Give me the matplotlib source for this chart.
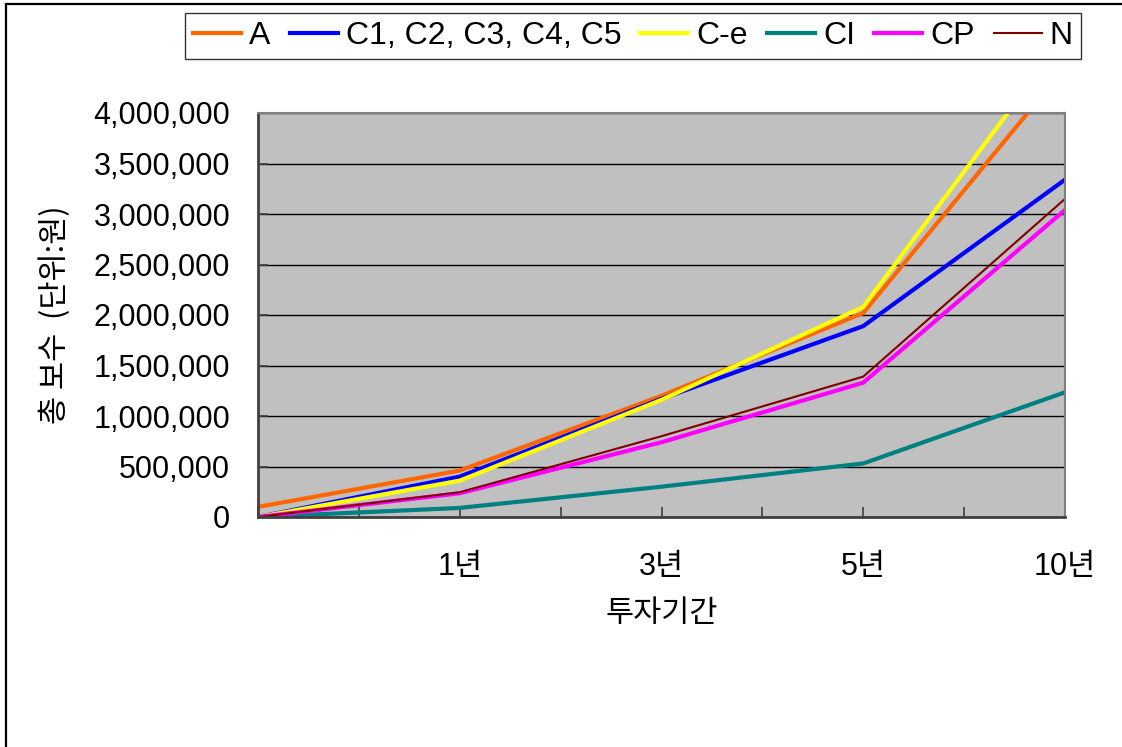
import matplotlib
matplotlib.use("Agg")
import matplotlib.pyplot as plt
from matplotlib.lines import Line2D

plt.rcParams['font.family'] = ['Liberation Sans', 'Noto Sans CJK KR', 'DejaVu Sans']

# Data
periods = ["", "1년", "3년", "5년", "10년"]
series_names = ["A", "C1, C2, C3, C4, C5", "C-e", "CI", "CP", "N"]
val_A = [100000, 460000, 1200000, 2020000, 4450000]
val_C = [0, 400000, 1170000, 1890000, 3340000]
val_Ce = [0, 360000, 1160000, 2080000, 4760000]
val_CI = [0, 90000, 300000, 530000, 1235000]
val_CP = [0, 235000, 740000, 1330000, 3040000]
val_N = [0, 245000, 800000, 1390000, 3150000]
series_values = [val_A, val_C, val_Ce, val_CI, val_CP, val_N]
colors = ["#FF6600", "#0000FF", "#FFFF00", "#008080", "#FF00FF", "#800000"]
widths = [3.0, 3.0, 3.0, 3.0, 3.0, 1.5]

W, H = 1122, 747
fig = plt.figure(figsize=(W / 100, H / 100), dpi=100)
fig.patch.set_facecolor("white")

# outer chart-area border (left and top visible)
fig.add_artist(Line2D([6 / W, 6 / W], [0, 1 - 4 / H], transform=fig.transFigure,
                      color="black", lw=1.6))
fig.add_artist(Line2D([6 / W, 1.01], [1 - 4 / H, 1 - 4 / H], transform=fig.transFigure,
                      color="black", lw=1.6))

ax = fig.add_axes([258 / W, 1 - 517 / H, (1065 - 258) / W, (517 - 113) / H])
ax.set_facecolor("#C0C0C0")

xpos = [0, 2, 4, 6, 8]
for name, vals, c, lw in zip(series_names, series_values, colors, widths):
    ax.plot(xpos, vals, color=c, lw=lw, label=name, solid_joinstyle="miter")

ax.set_xlim(0, 8)
ax.set_ylim(0, 4000000)
ax.set_yticks(range(0, 4000001, 500000))
ax.set_yticklabels([f"{v:,}" for v in range(0, 4000001, 500000)], fontsize=22)
ax.set_xticks(range(0, 9))
ax.set_xticklabels(["", "", "1년", "", "3년", "", "5년", "", "10년"], fontsize=22)
ax.tick_params(axis="x", direction="in", length=7, width=1.2, color="#404040", pad=25)
ax.tick_params(axis="y", direction="in", length=7, width=1.2, color="#404040", pad=20)
ax.grid(axis="y", color="black", lw=1.0)
ax.set_axisbelow(True)
for s in ["top", "right"]:
    ax.spines[s].set_color("#808080")
    ax.spines[s].set_linewidth(1.5)
for s in ["left", "bottom"]:
    ax.spines[s].set_color("#404040")
    ax.spines[s].set_linewidth(2.0)

ax.set_ylabel("총 보수  (단위:원)", fontsize=22, family=['Noto Sans CJK KR', 'DejaVu Sans'],
              labelpad=16)
ax.set_xlabel("투자기간", fontsize=22, family=['Noto Sans CJK KR', 'DejaVu Sans'],
              labelpad=12)

leg = fig.legend(loc="center", bbox_to_anchor=((184 + 1082) / 2 / W, 1 - 36 / H),
                 ncol=6, fontsize=23, frameon=True, fancybox=False,
                 handlelength=1.5, handletextpad=0.25, columnspacing=0.6,
                 borderpad=0.25, borderaxespad=0)
leg.get_frame().set_edgecolor("black")
leg.get_frame().set_linewidth(1.0)
for h, lw in zip(leg.get_lines(), widths):
    h.set_linewidth(lw)

fig.savefig("out.png", dpi=100, facecolor="white")
